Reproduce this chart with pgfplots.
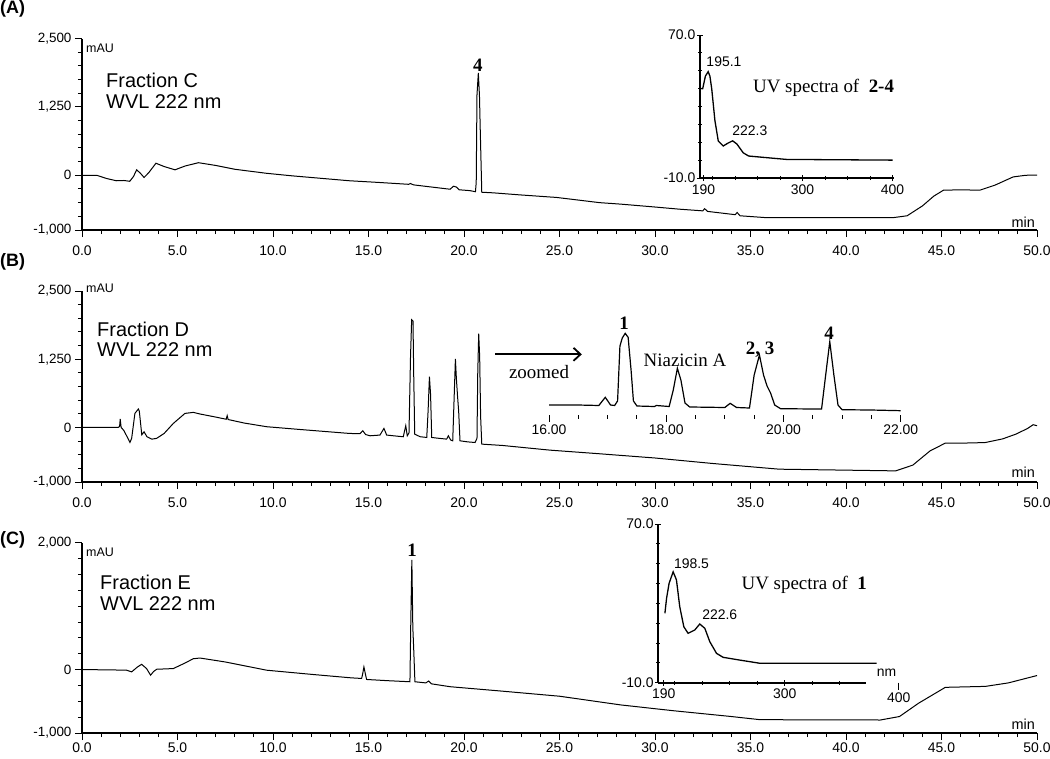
\documentclass[border=0pt]{standalone}
\usepackage{fontspec}
\setmainfont{Liberation Sans}
\newfontfamily\tnr{Liberation Serif}
\usepackage{pgfplots}
\pgfplotsset{compat=1.18}
\usetikzlibrary{arrows.meta}
\newcommand{\fs}[1]{\fontsize{#1}{#1}\selectfont}

\pgfplotsset{
  chrom/.style={
    scale only axis, width=955bp, height=191.5bp, anchor=south west,
    axis x line=bottom, axis y line=left,
    axis line style={-, line width=2.2bp},
    xmin=0, xmax=50, ymin=-1000, ymax=2500,
    xtick={0,5,10,15,20,25,30,35,40,45,50}, minor x tick num=4,
    major tick length=7bp, minor tick length=4bp, tick align=outside,
    tick style={black, line width=1bp},
    xticklabel style={font=\fs{14}, yshift=-5bp, /pgf/number format/fixed, /pgf/number format/fixed zerofill, /pgf/number format/precision=1},
    yticklabel style={font=\fs{13.5}, /pgf/number format/fixed, /pgf/number format/precision=0, /pgf/number format/1000 sep={,}},
    /pgf/number format/assume math mode=true,
    clip=false,
  },
  inset/.style={
    scale only axis, anchor=south west,
    axis x line=bottom, axis y line=left,
    axis line style={-, line width=1.8bp},
    ymin=-10, ymax=70, ytick={-10,70}, minor ytick={0,10,...,60},
    major tick length=6bp, minor tick length=4bp, tick align=center,
    tick style={black, line width=0.9bp},
    xticklabel style={font=\fs{14}},
    yticklabel style={font=\fs{14}, inner sep=1.5bp, /pgf/number format/fixed, /pgf/number format/fixed zerofill, /pgf/number format/precision=1},
    /pgf/number format/assume math mode=true,
    clip=false,
  },
  trace/.style={black, line width=1bp, mark=none},
}

\begin{document}
\begin{tikzpicture}
\useasboundingbox (0,0) rectangle (1050bp,-759bp);

% ---------------- Panel A ----------------
\begin{axis}[chrom, at={(82bp,-230bp)}, ytick={-1000,0,1250,2500}, minor ytick={-1000,-750,...,2500}]
\addplot[trace] coordinates {
(0,0) (0.77,0) (1.3,-60) (1.8,-100) (2.2,-95) (2.5,-110) (2.7,-20) (2.86,100) (3.05,40) (3.25,-40) (3.5,50) (3.87,220) (4.3,160) (4.87,100) (5.4,170) (6.1,230) (7,180) (8,110) (9.67,36) (11,-10) (12.5,-55) (14,-100) (15.5,-130) (17.1,-165) (17.2,-150) (17.35,-175) (19.27,-255) (19.45,-200) (19.6,-215) (19.75,-265) (20.3,-280) (20.6,-300) (20.64,-130) (20.68,1470) (20.75,1870) (20.81,1450) (20.85,840) (20.93,-310) (21.5,-320) (23,-360) (24.85,-405) (27.1,-500) (28.2,-527) (30,-580) (31.3,-620) (32.5,-650) (32.6,-610) (32.75,-660) (34.2,-720) (34.3,-680) (34.45,-740) (35.85,-775) (42.45,-775) (43.2,-740) (44,-560) (44.6,-380) (45.1,-273) (46,-265) (47,-273) (47.8,-180) (48.75,-30) (49.4,0) (50,5)
};
\node[font=\tnr\bfseries\fs{19}] at (axis cs:20.73,2009) {4};
\end{axis}

\begin{axis}[inset, at={(700bp,-178bp)}, width=194.4bp, height=143bp, xmin=186, xmax=402, xtick={190,300,400}, minor xtick={200,225,250,275,325,350,375}]
\addplot[trace, line width=1.3bp] coordinates {
(187.5,40) (189,40) (192,47) (195.1,49.5) (197,47) (199,40) (202.6,22) (206.3,10.7) (211.8,7.9) (217,9.5) (222.3,10.8) (227,9) (234,4.1) (240,2.3) (253,1.7) (282,0.4) (400,0)
};
\node[font=\fs{14}] at (axis cs:212.6,55.3) {195.1};
\node[font=\fs{14}] at (axis cs:241.4,16.4) {222.3};
\node[font=\tnr\fs{19}, anchor=west, inner sep=0] at (axis cs:244.8,40.7) {UV spectra of\ \ \textbf{2-4}};
\end{axis}

% ---------------- Panel B ----------------
\begin{axis}[chrom, at={(82bp,-482bp)}, height=191bp, ytick={-1000,0,1250,2500}, minor ytick={-1000,-750,...,2500}]
\addplot[trace] coordinates {
(0,0) (1.9,0) (1.97,20) (2.0,155) (2.05,0) (2.2,-60) (2.51,-275) (2.6,-200) (2.77,257) (2.95,338) (3.0,300) (3.13,-135) (3.25,-80) (3.4,-170) (3.65,-215) (3.91,-200) (4.3,-110) (4.78,73) (5.39,257) (5.83,276) (6.18,246) (7.0,190) (7.55,150) (7.6,215) (7.65,145) (8.5,80) (9.67,13) (11.5,-40) (14.0,-110) (14.55,-115) (14.7,-60) (14.85,-130) (15.08,-153) (15.6,-140) (15.81,-18) (15.95,-140) (16.5,-160) (16.82,-171) (16.95,31) (17.03,-153) (17.12,-100) (17.2,1300) (17.26,1974) (17.33,1950) (17.37,900) (17.42,-122) (17.7,-170) (18.05,-184) (18.12,300) (18.19,932) (18.25,600) (18.31,-184) (18.7,-200) (19.09,-214) (19.18,-153) (19.3,-230) (19.41,-245) (19.47,400) (19.55,1257) (19.6,900) (19.66,582) (19.72,300) (19.79,-245) (20.2,-265) (20.58,-276) (20.68,-200) (20.72,1000) (20.77,1717) (20.82,1300) (20.87,200) (20.93,-306) (22,-330) (24.5,-416) (27,-480) (30,-560) (33,-660) (36.5,-765) (42.6,-796) (43.5,-690) (44.4,-430) (45.2,-287) (46.5,-285) (47.3,-276) (48.2,-210) (48.9,-122) (49.5,-20) (49.8,50) (50,31)
};
\end{axis}

\begin{axis}[at={(549bp,-414.5bp)}, anchor=south west, scale only axis, width=351.7bp, height=93.5bp,
  xmin=16, xmax=22, ymin=-250, ymax=2500,
  axis x line=bottom, axis y line=none, x axis line style={draw=none},
  xtick={16,18,20,22}, minor x tick num=3, ytick=\empty,
  major tick length=7bp, minor tick length=4bp, tick align=outside,
  tick style={black, line width=1bp},
  xticklabel style={font=\fs{14}, /pgf/number format/fixed, /pgf/number format/fixed zerofill, /pgf/number format/precision=2},
  /pgf/number format/assume math mode=true, clip=false]
\addplot[trace, line width=1.2bp] coordinates {
(16.0,29) (16.5,29) (16.85,15) (16.96,256) (17.05,29) (17.12,15) (17.17,150) (17.21,1764) (17.25,2000) (17.3,2137) (17.35,2020) (17.4,1058) (17.44,150) (17.5,0) (17.8,-15) (17.83,15) (18.05,-15) (18.12,470) (18.19,1108) (18.25,764) (18.32,88) (18.4,-29) (19.0,-44) (19.09,79) (19.2,-44) (19.42,-59) (19.5,911) (19.59,1499) (19.66,911) (19.72,588) (19.78,382) (19.85,29) (19.95,-79) (20.5,-88) (20.65,-88) (20.72,911) (20.79,1890) (20.86,911) (20.93,29) (21.0,-109) (21.5,-118) (22.0,-138)
};
\node[font=\tnr\bfseries\fs{19}] at (axis cs:17.28,2431) {1};
\node[font=\tnr\fs{19}] at (axis cs:18.32,1352) {Niazicin A};
\node[font=\tnr\bfseries\fs{19}] at (axis cs:19.6,1667) {2, 3};
\node[font=\tnr\bfseries\fs{19}] at (axis cs:20.78,2137) {4};
\draw[line width=1.8bp, -{Straight Barb[length=7bp,width=13bp]}] (axis cs:15.08,1520) -- (axis cs:16.56,1520);
\node[font=\tnr\fs{19}] at (axis cs:15.83,1008) {zoomed};
\end{axis}

% ---------------- Panel C ----------------
\begin{axis}[chrom, at={(82bp,-733bp)}, height=190.3bp, ymax=2000, ytick={-1000,0,2000}, minor ytick={-1000,-750,...,2000},
  xticklabel style={/tikz/yshift=3bp, /tikz/inner sep=1bp}]
\addplot[trace] coordinates {
(0,0) (1.5,-5) (2.34,-10) (2.6,-36) (2.9,40) (3.12,83) (3.38,16) (3.59,-88) (3.75,-30) (3.91,5) (4.78,16) (5.3,90) (5.83,171) (6.18,182) (7.5,120) (9.67,-10) (12,-75) (14.08,-130) (14.64,-140) (14.7,-60) (14.76,42) (14.83,-60) (14.9,-156) (16,-175) (17.17,-192) (17.21,670) (17.27,1730) (17.32,670) (17.37,300) (17.43,-192) (18.0,-210) (18.15,-180) (18.3,-225) (19.27,-270) (22,-340) (25,-420) (28.2,-557) (31,-650) (33.9,-737) (35.5,-790) (41.8,-795) (42.8,-740) (43.8,-530) (45.2,-280) (47.3,-265) (48.5,-210) (50,-94)
};
\node[font=\tnr\bfseries\fs{19}] at (axis cs:17.28,1886) {1};
\end{axis}

\begin{axis}[inset, at={(658.3bp,-682.7bp)}, width=207.9bp, height=158.7bp, xmin=185, xmax=374, xtick={190,300}, minor xtick={200,225,250,275,325,350}]
\addplot[trace, line width=1.3bp] coordinates {
(191,25) (192.5,32.5) (194.8,40.1) (198.5,45.9) (201.5,41.8) (204.5,28.3) (208.2,18.2) (212.1,14.9) (218.2,16.6) (222.7,19.6) (227.3,17.4) (231.8,10.7) (237.9,4.8) (243.9,2.8) (259.1,1.4) (277.3,-0.2) (383.4,-0.2)
};
\node[font=\fs{14}] at (axis cs:215.2,50.1) {198.5};
\node[font=\fs{14}] at (axis cs:240.9,24.1) {222.6};
\node[font=\tnr\fs{19}, anchor=west, inner sep=0] at (axis cs:260.6,39.2) {UV spectra of\ \ \textbf{1}};
\node[font=\fs{14}] at (axis cs:392.5,-5.1) {nm};
\draw[black, line width=0.9bp] (axis cs:403.6,-10) -- (axis cs:403.6,-13.7);
\node[font=\fs{14}] at (axis cs:403.6,-17.5) {400};
\end{axis}

% ---------------- Texts ----------------
\node[font=\bfseries\fs{18}, anchor=base west, inner sep=0] at (0bp,-13.3bp) {(A)};
\node[font=\bfseries\fs{18}, anchor=base west, inner sep=0] at (0bp,-266.6bp) {(B)};
\node[font=\bfseries\fs{18}, anchor=base west, inner sep=0] at (0bp,-544bp) {(C)};

\node[font=\fs{12.5}, anchor=base west, inner sep=0] at (86bp,-52.7bp) {mAU};
\node[font=\fs{12.5}, anchor=base west, inner sep=0] at (86bp,-292bp) {mAU};
\node[font=\fs{12.5}, anchor=base west, inner sep=0] at (86bp,-556.7bp) {mAU};

\node[font=\fs{14.5}, anchor=base east, inner sep=0] at (1035bp,-227bp) {min};
\node[font=\fs{14.5}, anchor=base east, inner sep=0] at (1035bp,-477.3bp) {min};
\node[font=\fs{14.5}, anchor=base east, inner sep=0] at (1035bp,-729bp) {min};

\node[font=\fs{20}, anchor=base west, inner sep=0] at (106bp,-87.3bp) {Fraction C};
\node[font=\fs{20}, anchor=base west, inner sep=0] at (106bp,-108.3bp) {WVL 222 nm};
\node[font=\fs{20}, anchor=base west, inner sep=0] at (97bp,-336.7bp) {Fraction D};
\node[font=\fs{20}, anchor=base west, inner sep=0] at (97bp,-356.7bp) {WVL 222 nm};
\node[font=\fs{20}, anchor=base west, inner sep=0] at (100bp,-589bp) {Fraction E};
\node[font=\fs{20}, anchor=base west, inner sep=0] at (100bp,-610bp) {WVL 222 nm};
\end{tikzpicture}
\end{document}
